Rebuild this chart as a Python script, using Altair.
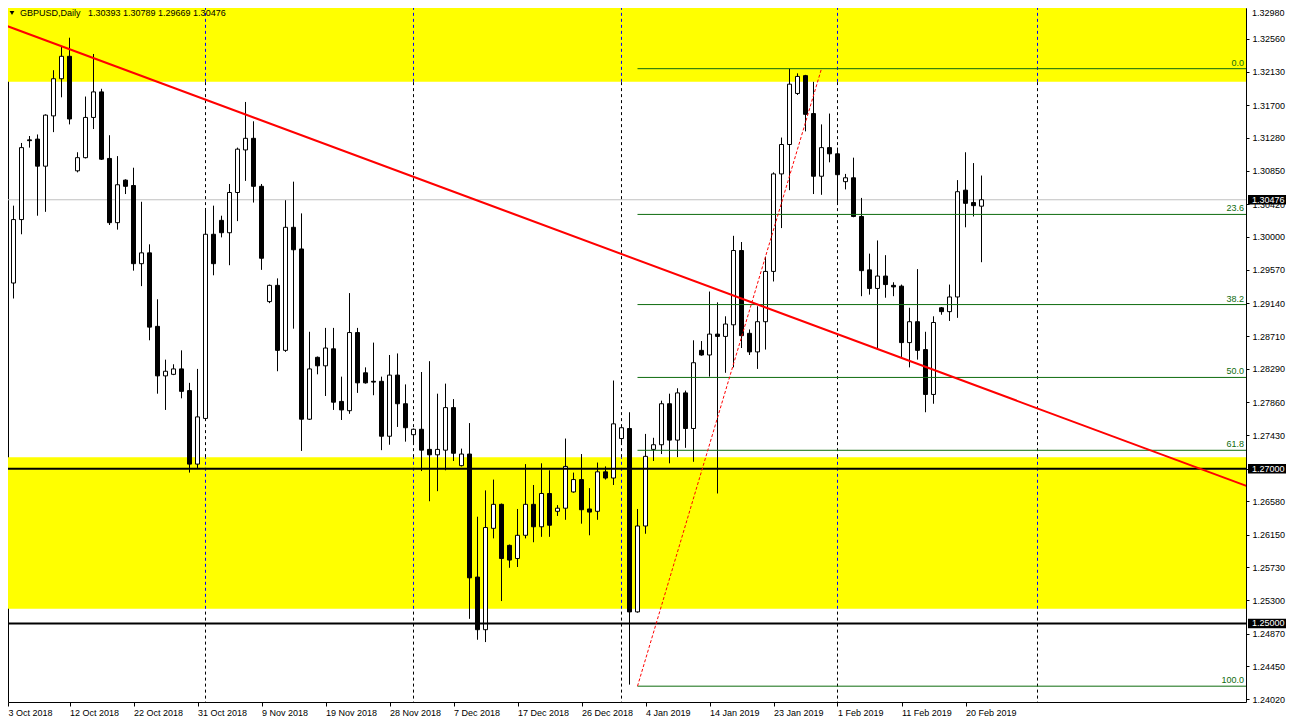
import altair as alt
import pandas as pd

# ---------------- data ----------------
opens = [1.2978, 1.2940, 1.3022, 1.3125, 1.3126, 1.3091, 1.3156, 1.3204, 1.3233, 1.3085,
         1.3102, 1.3154, 1.3187, 1.3101, 1.3018, 1.3073, 1.3066, 1.2965, 1.2979, 1.2884,
         1.2820, 1.2822, 1.2829, 1.2801, 1.2706, 1.2765, 1.3003, 1.3021, 1.3005, 1.3057,
         1.3112, 1.3127, 1.3065, 1.2916, 1.2937, 1.2853, 1.3012, 1.2984, 1.2764, 1.2844,
         1.2833, 1.2855, 1.2787, 1.2775, 1.2876, 1.2824, 1.2813, 1.2813, 1.2742, 1.2821,
         1.2784, 1.2744, 1.2751, 1.2725, 1.2718, 1.2724, 1.2779, 1.2704, 1.2719, 1.2560,
         1.2492, 1.2623, 1.2654, 1.2601, 1.2584, 1.2614, 1.2654, 1.2625, 1.2668, 1.2645,
         1.2649, 1.2670, 1.2686, 1.2648, 1.2645, 1.2696, 1.2688, 1.2739, 1.2752, 1.2515,
         1.2626, 1.2725, 1.2731, 1.2784, 1.2737, 1.2798, 1.2752, 1.2853, 1.2847, 1.2874,
         1.2871, 1.2886, 1.2982, 1.2875, 1.2851, 1.2890, 1.2955, 1.3081, 1.3119, 1.3185,
         1.3208, 1.3159, 1.3078, 1.3115, 1.3107, 1.3071, 1.3076, 1.3026, 1.2957, 1.2933,
         1.2949, 1.2937, 1.2936, 1.2863, 1.2890, 1.2854, 1.2796, 1.2908, 1.2903, 1.2922,
         1.3060, 1.3044, 1.30393]
highs = [1.3022, 1.3040, 1.3121, 1.3130, 1.3132, 1.3158, 1.3215, 1.3246, 1.3257, 1.3109,
         1.3181, 1.3236, 1.3191, 1.3131, 1.3104, 1.3074, 1.3089, 1.3045, 1.2990, 1.2919,
         1.2841, 1.2835, 1.2853, 1.2811, 1.2829, 1.3037, 1.3040, 1.3027, 1.3068, 1.3115,
         1.3174, 1.3149, 1.3068, 1.2938, 1.2946, 1.3047, 1.3071, 1.3030, 1.2877, 1.2845,
         1.2882, 1.2882, 1.2819, 1.2927, 1.2882, 1.2831, 1.2863, 1.2819, 1.2847, 1.2849,
         1.2809, 1.2752, 1.2825, 1.2839, 1.2797, 1.2810, 1.2790, 1.2726, 1.2759, 1.2638,
         1.2672, 1.2686, 1.2655, 1.2602, 1.2648, 1.2706, 1.2679, 1.2707, 1.2698, 1.2653,
         1.2739, 1.2695, 1.2719, 1.2675, 1.2708, 1.2703, 1.2814, 1.2755, 1.2773, 1.2648,
         1.2745, 1.2740, 1.2788, 1.2797, 1.2804, 1.2801, 1.2866, 1.2865, 1.2929, 1.2915,
         1.2897, 1.3001, 1.2993, 1.2880, 1.2910, 1.2974, 1.3083, 1.3128, 1.3217, 1.3211,
         1.3209, 1.3200, 1.3145, 1.3159, 1.3115, 1.3081, 1.3102, 1.3050, 1.2978, 1.2995,
         1.2976, 1.2941, 1.2938, 1.2908, 1.2958, 1.2877, 1.2897, 1.2909, 1.2938, 1.3073,
         1.3109, 1.3095, 1.30789]
lows = [1.2923, 1.2920, 1.3003, 1.3115, 1.3027, 1.3032, 1.3135, 1.3180, 1.3145, 1.3083,
        1.3101, 1.3139, 1.3099, 1.3015, 1.3009, 1.3055, 1.2956, 1.2936, 1.2866, 1.2797,
        1.2776, 1.2821, 1.2791, 1.2695, 1.2701, 1.2763, 1.2950, 1.2999, 1.2963, 1.3020,
        1.3072, 1.3044, 1.2957, 1.2914, 1.2826, 1.2851, 1.2881, 1.2723, 1.2763, 1.2822,
        1.2794, 1.2776, 1.2763, 1.2771, 1.2798, 1.2810, 1.2795, 1.2724, 1.2731, 1.2754,
        1.2735, 1.2732, 1.2697, 1.2658, 1.2671, 1.2698, 1.2710, 1.2703, 1.2506, 1.2479,
        1.2476, 1.2610, 1.2529, 1.2572, 1.2573, 1.2610, 1.2605, 1.2612, 1.2612, 1.2639,
        1.2634, 1.2669, 1.2629, 1.2614, 1.2634, 1.2686, 1.2679, 1.2732, 1.2421, 1.2514,
        1.2616, 1.2710, 1.2719, 1.2707, 1.2715, 1.2727, 1.2709, 1.2846, 1.2819, 1.2668,
        1.2824, 1.2831, 1.2856, 1.2847, 1.2829, 1.2854, 1.2942, 1.3011, 1.3060, 1.3183,
        1.3136, 1.3055, 1.3054, 1.3096, 1.3043, 1.3061, 1.3025, 1.2923, 1.2925, 1.2854,
        1.2921, 1.2923, 1.2844, 1.2831, 1.2841, 1.2773, 1.2784, 1.2899, 1.2891, 1.2895,
        1.3012, 1.3026, 1.29669]
closes = [1.2938, 1.3022, 1.3115, 1.3124, 1.3091, 1.3157, 1.3204, 1.3233, 1.3152, 1.3102,
          1.3154, 1.3187, 1.3100, 1.3018, 1.3067, 1.3065, 1.2965, 1.2979, 1.2883, 1.2820,
          1.2826, 1.2829, 1.2800, 1.2706, 1.2767, 1.3003, 1.2965, 1.3005, 1.3057, 1.3113,
          1.3127, 1.3065, 1.2972, 1.2937, 1.2853, 1.3012, 1.2983, 1.2764, 1.2829, 1.2833,
          1.2856, 1.2786, 1.2776, 1.2876, 1.2811, 1.2811, 1.2812, 1.2742, 1.2821, 1.2784,
          1.2753, 1.2751, 1.2724, 1.2718, 1.2725, 1.2779, 1.2720, 1.2719, 1.2559, 1.2492,
          1.2624, 1.2654, 1.2584, 1.2582, 1.2614, 1.2654, 1.2625, 1.2668, 1.2627, 1.2649,
          1.2703, 1.2686, 1.2647, 1.2644, 1.2696, 1.2688, 1.2758, 1.2753, 1.2515, 1.2626,
          1.2716, 1.2731, 1.2784, 1.2737, 1.2798, 1.2752, 1.2837, 1.2847, 1.2874, 1.2871,
          1.2887, 1.2982, 1.2872, 1.2851, 1.2890, 1.2955, 1.3081, 1.3119, 1.3197, 1.3207,
          1.3158, 1.3078, 1.3115, 1.3107, 1.3080, 1.3076, 1.3026, 1.2956, 1.2933, 1.2949,
          1.2938, 1.2935, 1.2863, 1.2890, 1.2853, 1.2796, 1.2889, 1.2903, 1.2922, 1.3058,
          1.3043, 1.3040, 1.30476]

date_labels = ["3 Oct 2018", "12 Oct 2018", "22 Oct 2018", "31 Oct 2018", "9 Nov 2018",
               "19 Nov 2018", "28 Nov 2018", "7 Dec 2018", "17 Dec 2018", "26 Dec 2018",
               "4 Jan 2019", "14 Jan 2019", "23 Jan 2019", "1 Feb 2019", "11 Feb 2019",
               "20 Feb 2019"]
date_ticks = [0, 8, 16, 24, 32, 40, 48, 56, 64, 72, 80, 88, 96, 104, 112, 120]
price_ticks = [1.32980, 1.32560, 1.32130, 1.31700, 1.31280, 1.30850, 1.30420, 1.30000,
               1.29570, 1.29140, 1.28710, 1.28290, 1.27860, 1.27430, 1.27000, 1.26580,
               1.26150, 1.25730, 1.25300, 1.24870, 1.24450, 1.24020]
month_separators = [25, 51, 77, 104, 129]
zone_lo = [1.3200, 1.2519]
zone_hi = [1.3400, 1.2715]
level_lines = [1.2700, 1.2500]
current_price = 1.30476
fib_levels = [0.0, 23.6, 38.2, 50.0, 61.8, 100.0]
fib_high = 1.3217
fib_low = 1.2419
fib_idx = [79, 102]
trend_idx = [-0.125, 155.125]
trend_price = [1.32734, 1.26777]
title_text = "GBPUSD,Daily\u00a0\u00a0 1.30393 1.30789 1.29669 1.30476"

# ---------------- layout ----------------
W, H = 1238, 694
XD = [0.3125, 155.0625]
YD = [1.239855, 1.329542]
FONT = "Liberation Sans"
FIB_COLOR = "#0e6b0e"

xs = alt.Scale(domain=XD, nice=False, zero=False)
ys = alt.Scale(domain=YD, nice=False, zero=False)

xvals = [max(t, XD[0]) for t in date_ticks]
label_expr = "[" + ",".join("'%s'" % s for s in date_labels) + "][round(datum.value / 8)]"
xaxis = alt.Axis(values=xvals, labelExpr=label_expr, labelAlign="left", labelBaseline="top",
                 labelPadding=2, tickSize=4, labelFlush=False, labelOverlap=False,
                 title=None, grid=False, domain=False)
yvals = [p for p in price_ticks if YD[0] <= p <= YD[1]]
yaxis = alt.Axis(orient="right", values=yvals, format=".5f", labelAlign="left",
                 labelBaseline="middle", tickSize=3, labelPadding=3, labelFlush=False,
                 labelOverlap=False, title=None, grid=False, domain=False)


def X(f):
    return alt.X(f, type="quantitative", scale=xs, axis=xaxis)


def Y(f):
    return alt.Y(f, type="quantitative", scale=ys, axis=yaxis)


n = len(opens)
candles = pd.DataFrame({"idx": list(range(n)), "o": opens, "h": highs, "l": lows, "c": closes})
candles["fillc"] = ["white" if c >= o else "black" for o, c in zip(opens, closes)]

# yellow zones
zones = pd.DataFrame({"lo": zone_lo, "hi": zone_hi, "x0": -5.0, "x1": 200.0})
zones_layer = alt.Chart(zones).mark_rect(color="#ffff00", clip=True).encode(
    x=X("x0"), x2="x1", y=Y("lo"), y2="hi")

cur_layer = alt.Chart(pd.DataFrame({"p": [current_price]})).mark_rule(
    color="#c0c0c0", strokeWidth=1, clip=True).encode(y=Y("p"))

# month separators: blue inside the yellow zones, black elsewhere
seg_rows = []
bounds = [(zone_lo[0], zone_hi[0] + 0.1, "#0000ff"),
          (zone_hi[1], zone_lo[0], "black"),
          (zone_lo[1], zone_hi[1], "#0000ff"),
          (zone_lo[1] - 0.1, zone_lo[1], "black")]
for s in month_separators:
    for lo, hi, col in bounds:
        seg_rows.append({"idx": s, "lo": lo, "hi": hi, "col": col})
seps = pd.DataFrame(seg_rows)
sep_layer = alt.Chart(seps).mark_rule(strokeWidth=1, strokeDash=[3, 3], clip=True).encode(
    x=X("idx"), y=Y("lo"), y2="hi", color=alt.Color("col:N", scale=None))

wick_layer = alt.Chart(candles).mark_rule(color="black", strokeWidth=1, clip=True).encode(
    x=X("idx"), y=Y("l"), y2="h")
body_layer = alt.Chart(candles).transform_calculate(
    x0="datum.idx - 0.25", x1="datum.idx + 0.25"
).mark_rect(stroke="black", strokeWidth=1, clip=True).encode(
    x=X("x0"), x2="x1", y=Y("o"), y2="c", fill=alt.Color("fillc:N", scale=None))

fib = pd.DataFrame({"lvl": fib_levels})
fib["p"] = [fib_high - (fib_high - fib_low) * v / 100.0 for v in fib_levels]
fib["x0"] = fib_idx[0]
fib["x1"] = XD[1] + 1
fib["xl"] = XD[1]
fib["txt"] = ["%.1f" % v for v in fib_levels]
fib_layer = alt.Chart(fib).mark_rule(color=FIB_COLOR, strokeWidth=1, clip=True).encode(
    x=X("x0"), x2="x1", y=Y("p"))
fib_text = alt.Chart(fib).mark_text(align="right", baseline="bottom", dx=-2, dy=-1,
                                    font=FONT, fontSize=9, color=FIB_COLOR).encode(
    x=X("xl"), y=Y("p"), text="txt:N")

lvl_layer = alt.Chart(pd.DataFrame({"p": level_lines})).mark_rule(
    color="black", strokeWidth=2, clip=True).encode(y=Y("p"))

trend = pd.DataFrame({"idx": trend_idx, "p": trend_price})
trend_layer = alt.Chart(trend).mark_line(color="#ff0000", strokeWidth=2, clip=True).encode(
    x=X("idx"), y=Y("p"))

fibdiag = pd.DataFrame({"idx": fib_idx, "p": [fib_low, fib_high]})
fibdiag_layer = alt.Chart(fibdiag).mark_line(color="#ff0000", strokeWidth=1,
                                             strokeDash=[3, 2], clip=True).encode(
    x=X("idx"), y=Y("p"))

title_tri = alt.Chart(pd.DataFrame({"a": [1]})).mark_point(
    shape="triangle-down", filled=True, color="black", size=22, opacity=1).encode(
    x=alt.value(4), y=alt.value(5))
title_txt = alt.Chart(pd.DataFrame({"t": [title_text]})).mark_text(
    align="left", baseline="middle", font=FONT, fontSize=9, color="black").encode(
    x=alt.value(12), y=alt.value(5), text="t:N")

boxes = pd.DataFrame({"p": [current_price] + level_lines})
boxes["txt"] = ["%.5f" % p for p in boxes["p"]]
boxes["p_hi"] = boxes["p"] + 0.00062
boxes["p_lo"] = boxes["p"] - 0.00062
box_rect = alt.Chart(boxes).mark_rect(color="black").encode(
    x=alt.value(W + 2), x2=alt.value(W + 46), y=Y("p_hi"), y2="p_lo")
box_text = alt.Chart(boxes).mark_text(align="left", baseline="middle", font=FONT,
                                      fontSize=9, color="white").encode(
    x=alt.value(W + 6), y=Y("p"), text="txt:N")

# the topmost price label sits just above the visible plot: keep it inside the page
top_lbl = pd.DataFrame({"p": [p for p in price_ticks if p > YD[1]]})
top_lbl["txt"] = ["%.5f" % p for p in top_lbl["p"]]
top_text = alt.Chart(top_lbl).mark_text(align="left", baseline="top", dy=3, font=FONT,
                                        fontSize=9, color="black").encode(
    x=alt.value(W + 6), y=Y("p"), text="txt:N")

chart = alt.layer(
    zones_layer, cur_layer, sep_layer, wick_layer, body_layer, fib_layer, lvl_layer,
    trend_layer, fibdiag_layer, fib_text, title_tri, title_txt, box_rect, box_text, top_text
).properties(
    width=W, height=H, autosize="none",
    padding={"left": 0, "top": 0, "right": 40, "bottom": 15},
    background="white"
).configure_view(stroke="black", strokeWidth=1).configure_axis(
    labelFont=FONT, labelFontSize=9, labelColor="black", tickColor="black", tickWidth=1
)

chart.save("out.html", embed_options={"renderer": "svg", "actions": False})
